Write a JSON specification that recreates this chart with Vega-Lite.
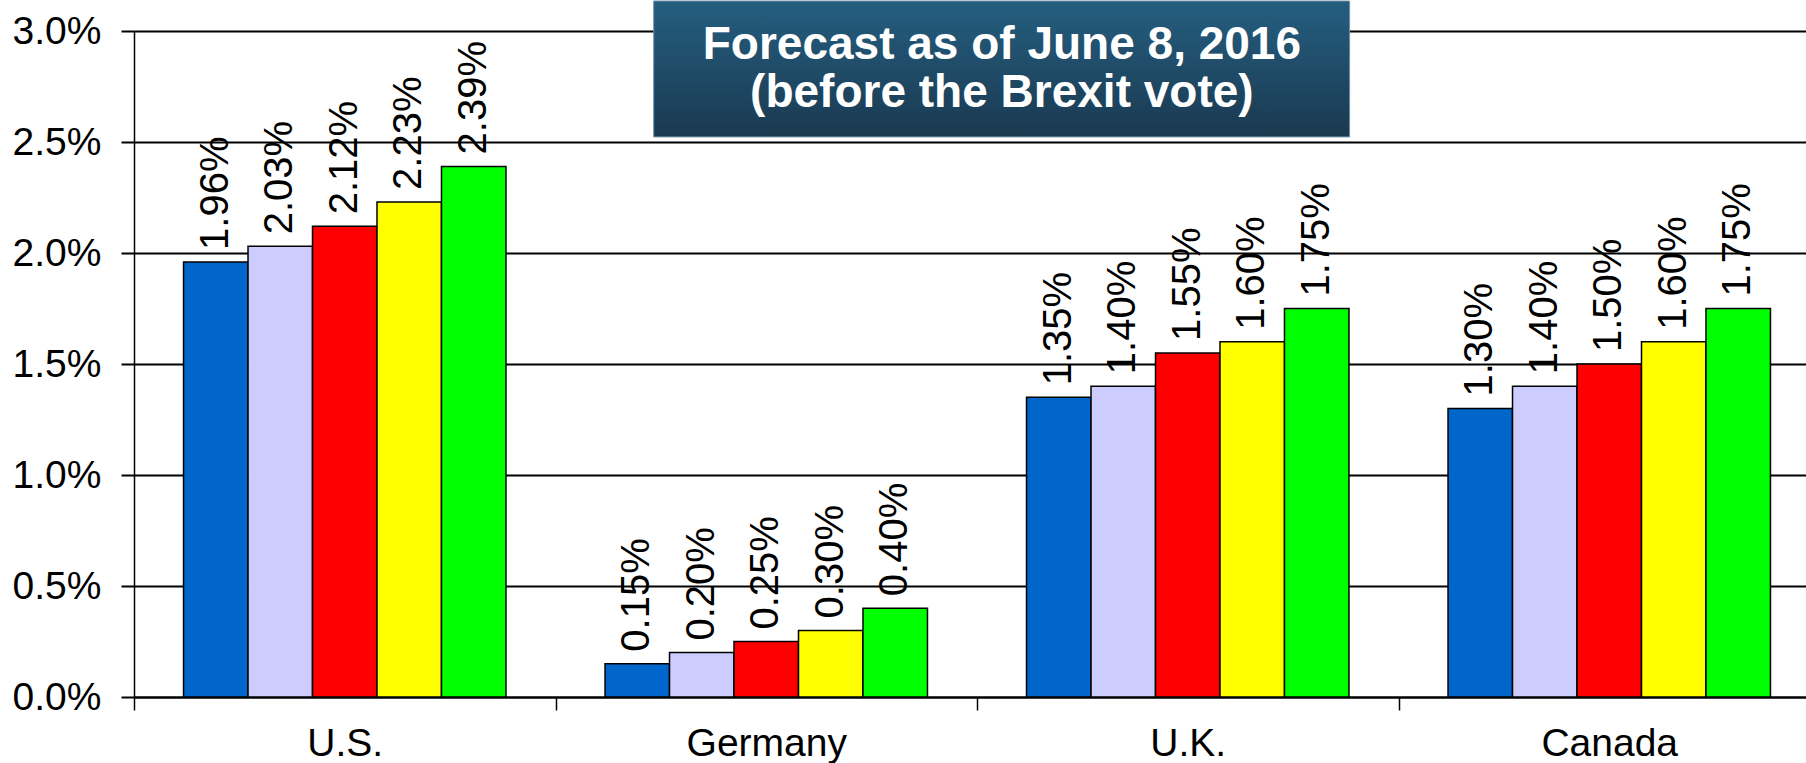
{
  "$schema": "https://vega.github.io/schema/vega-lite/v6.json",
  "width": 1672,
  "height": 666,
  "autosize": {"type": "none"},
  "padding": {"left": 134, "top": 31, "right": 0, "bottom": 66},
  "background": "white",
  "config": {"view": {"stroke": null}, "font": "Liberation Sans"},
  "data": {
    "values": [
      {"country": "U.S.", "series": "S1", "value": 0.0196},
      {"country": "U.S.", "series": "S2", "value": 0.0203},
      {"country": "U.S.", "series": "S3", "value": 0.0212},
      {"country": "U.S.", "series": "S4", "value": 0.0223},
      {"country": "U.S.", "series": "S5", "value": 0.0239},
      {"country": "Germany", "series": "S1", "value": 0.0015},
      {"country": "Germany", "series": "S2", "value": 0.0020},
      {"country": "Germany", "series": "S3", "value": 0.0025},
      {"country": "Germany", "series": "S4", "value": 0.0030},
      {"country": "Germany", "series": "S5", "value": 0.0040},
      {"country": "U.K.", "series": "S1", "value": 0.0135},
      {"country": "U.K.", "series": "S2", "value": 0.0140},
      {"country": "U.K.", "series": "S3", "value": 0.0155},
      {"country": "U.K.", "series": "S4", "value": 0.0160},
      {"country": "U.K.", "series": "S5", "value": 0.0175},
      {"country": "Canada", "series": "S1", "value": 0.0130},
      {"country": "Canada", "series": "S2", "value": 0.0140},
      {"country": "Canada", "series": "S3", "value": 0.0150},
      {"country": "Canada", "series": "S4", "value": 0.0160},
      {"country": "Canada", "series": "S5", "value": 0.0175}
    ]
  },
  "layer": [
    {
      "encoding": {
        "x": {
          "field": "country", "type": "nominal",
          "sort": ["U.S.", "Germany", "U.K.", "Canada"],
          "scale": {"range": [0, 1686], "paddingInner": 0, "paddingOuter": 0},
          "axis": {
            "title": null, "labelAngle": 0, "labelFontSize": 39, "labelColor": "black",
            "labelPadding": 14, "tickBand": "extent", "tickSize": 13, "tickColor": "black",
            "tickWidth": 1.5, "domainColor": "black", "domainWidth": 2, "grid": false
          }
        },
        "xOffset": {
          "field": "series", "type": "nominal",
          "scale": {"paddingInner": 0, "paddingOuter": 0.768}
        },
        "y": {
          "field": "value", "type": "quantitative",
          "scale": {"domain": [0, 0.03]},
          "axis": {
            "title": null, "format": ".1%",
            "values": [0, 0.005, 0.01, 0.015, 0.02, 0.025, 0.03],
            "labelFontSize": 39, "labelColor": "black", "labelPadding": 20,
            "tickSize": 13, "tickColor": "black", "tickWidth": 2,
            "domainColor": "black", "domainWidth": 1.5,
            "grid": true, "gridColor": "black", "gridWidth": 2, "gridOpacity": 1
          }
        }
      },
      "layer": [
        {
          "mark": {"type": "bar", "stroke": "black", "strokeWidth": 1.5},
          "encoding": {
            "color": {
              "field": "series", "type": "nominal", "legend": null,
              "scale": {"domain": ["S1", "S2", "S3", "S4", "S5"], "range": ["#0066CC", "#CCCCFF", "#FF0000", "#FFFF00", "#00FF00"]}
            }
          }
        },
        {
          "mark": {"type": "text", "angle": 270, "align": "left", "baseline": "middle", "dx": 12, "fontSize": 40, "color": "black"},
          "encoding": {
            "text": {"field": "value", "type": "quantitative", "format": ".2%"}
          }
        }
      ]
    },
    {
      "data": {"values": [{}]},
      "mark": {
        "type": "rect",
        "fill": {"gradient": "linear", "x1": 0, "y1": 0, "x2": 0, "y2": 1,
          "stops": [{"offset": 0, "color": "#255E80"}, {"offset": 1, "color": "#1A3950"}]},
        "stroke": "#6F8FA6", "strokeWidth": 1
      },
      "encoding": {
        "x": {"datum": 1.233, "type": "quantitative", "scale": {"domain": [0, 4], "range": [0, 1686]}, "axis": null},
        "x2": {"datum": 2.884},
        "y": {"datum": 0.03135, "type": "quantitative", "scale": {"domain": [0, 0.03]}, "axis": null},
        "y2": {"datum": 0.02523}
      }
    },
    {
      "data": {"values": [{}]},
      "mark": {
        "type": "text",
        "text": ["Forecast as of June 8, 2016", "(before the Brexit vote)"],
        "fontSize": 46, "fontWeight": "bold", "color": "white",
        "align": "center", "baseline": "alphabetic", "lineHeight": 48
      },
      "encoding": {
        "x": {"datum": 2.059, "type": "quantitative", "scale": {"domain": [0, 4], "range": [0, 1686]}, "axis": null},
        "y": {"datum": 0.02875, "type": "quantitative", "scale": {"domain": [0, 0.03]}, "axis": null}
      }
    }
  ],
  "resolve": {"scale": {"x": "independent", "y": "independent"}}
}
